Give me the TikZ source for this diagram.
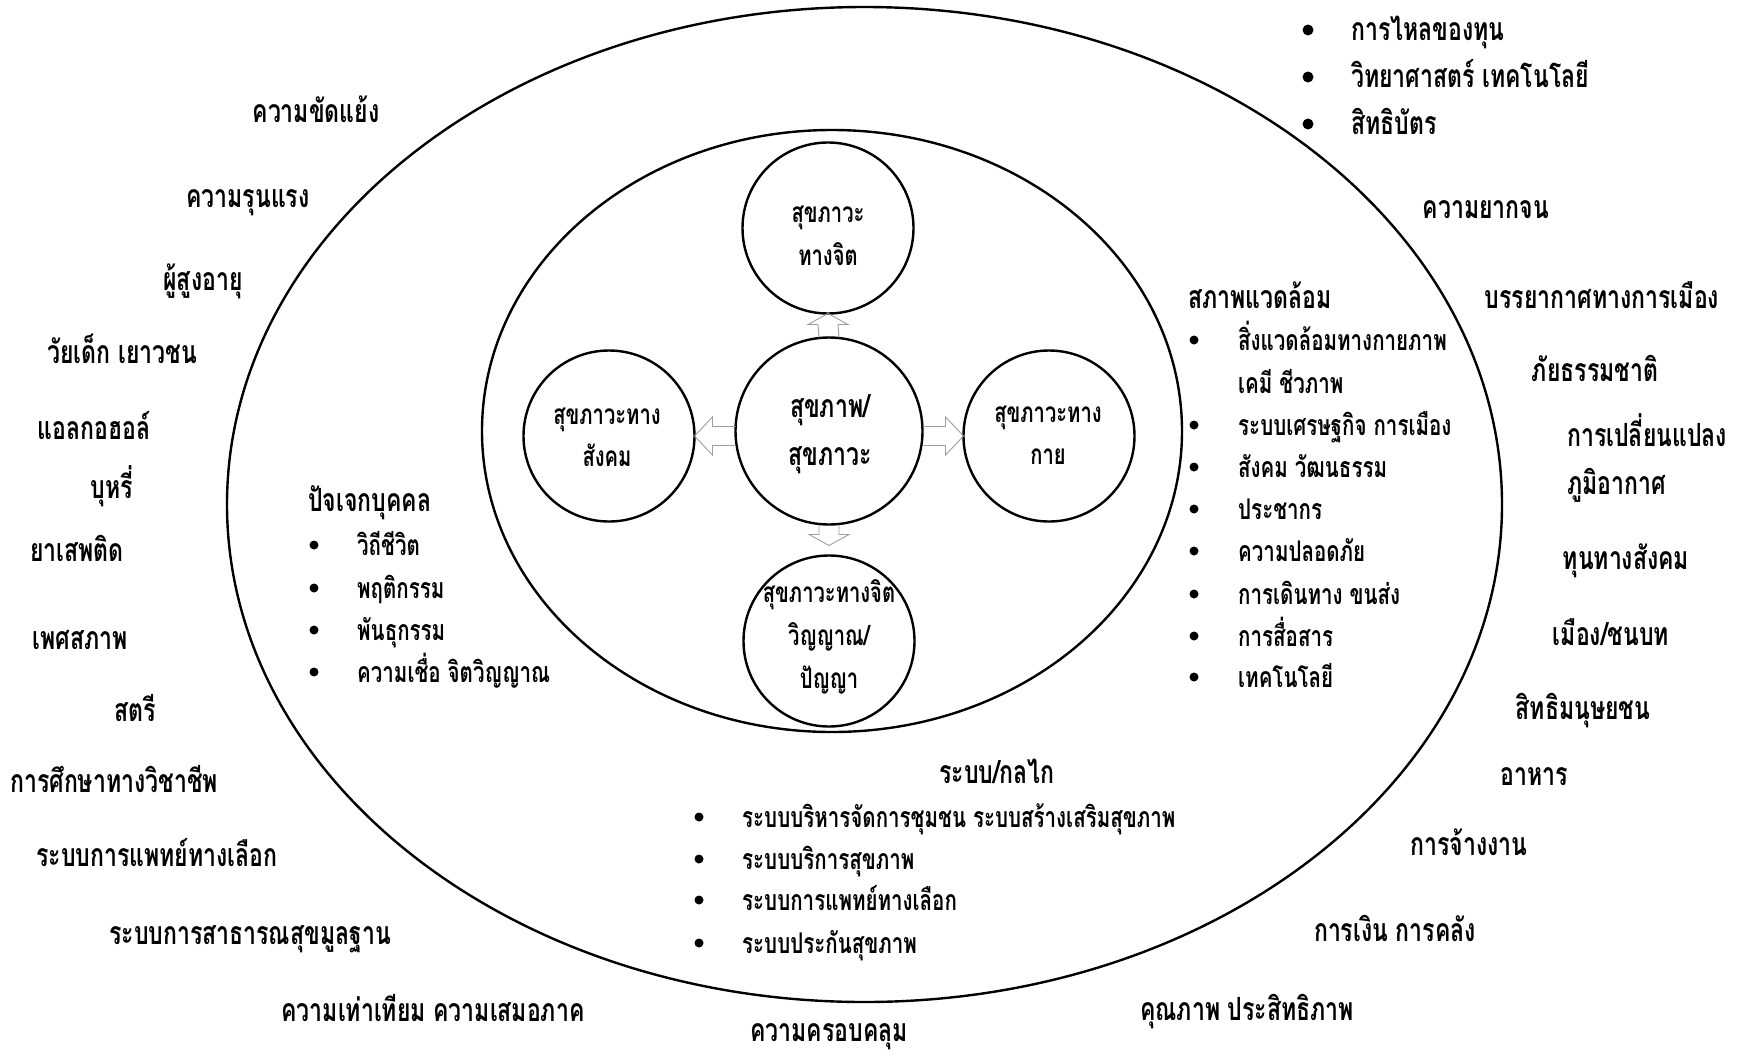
\documentclass[tikz,border=0pt]{standalone}
\usepackage{fontspec}
\setmainfont{Loma}[Script=Thai,FakeStretch=0.72]
\usetikzlibrary{calc,shapes.geometric}
\begin{document}
\begin{tikzpicture}[x=1pt,y=-1pt,
  ring/.style={draw, line width=2.4pt, ellipse, inner sep=0pt, outer sep=0pt},
  bub/.style={draw, circle, line width=2.4pt, inner sep=0pt, outer sep=0pt, minimum size=171pt},
  tx/.style={inner sep=0pt, text height=0pt, text depth=0pt, yshift=-10pt},
  big/.style={tx, font=\bfseries\fontsize{32}{40}\selectfont},
  sml/.style={tx, font=\bfseries\fontsize{28.5}{40}\selectfont},
  csml/.style={tx, font=\bfseries\fontsize{28}{40}\selectfont},
  hd/.style={big, anchor=west},
  item/.style={sml, anchor=west},
  itembig/.style={big, anchor=west},
  dot/.style={circle, fill=black, inner sep=0pt, minimum size=9pt},
  bigdot/.style={circle, fill=black, inner sep=0pt, minimum size=11pt},
  barrow/.style={draw=black!38, line width=0.9pt, line join=miter}
]
\fill[white] (0,0) rectangle (1754,1058);
\useasboundingbox (0,0) rectangle (1754,1058);

% rings
\node[ring, minimum width=1275pt, minimum height=995pt] (outer) at (864.5,504.5) {};
\node[ring, minimum width=700pt, minimum height=602pt] (middle) at (832,431) {};

% circles
\node[bub, minimum size=187pt] (ctr) at (829,431) {};
\node[bub] (top) at (828,228) {};
\node[bub] (lft) at (609,436) {};
\node[bub] (rgt) at (1049,436) {};
\node[bub] (bot) at (829,641) {};

% circle texts
\node[big] (ctr1) at (830,407) {สุขภาพ/};
\node[big] (ctr2) at (830,455) {สุขภาวะ};
\node[csml] (top1) at (828,212) {สุขภาวะ};
\node[csml] (top2) at (828,255) {ทางจิต};
\node[csml] (lft1) at (607,414) {สุขภาวะทาง};
\node[csml] (lft2) at (607,456) {สังคม};
\node[csml] (rgt1) at (1048,412) {สุขภาวะทาง};
\node[csml] (rgt2) at (1048,454) {กาย};
\node[csml] (bot1) at (829,592) {สุขภาวะทางจิต};
\node[csml] (bot2) at (829,635) {วิญญาณ/};
\node[csml] (bot3) at (829,678) {ปัญญา};

% block arrows
\coordinate (uT) at (top.south);
\draw[barrow] ($(ctr.north)+(-10,0)$) -- ($(uT)+(-10,11)$) -- ($(uT)+(-20,11)$) -- (uT)
  -- ($(uT)+(20,11)$) -- ($(uT)+(10,11)$) -- ($(ctr.north)+(10,0)$);
\coordinate (dT) at ($(ctr.south)+(0,21)$);
\draw[barrow] ($(ctr.south)+(-10,0)$) -- ($(dT)+(-10,-11)$) -- ($(dT)+(-20,-11)$) -- (dT)
  -- ($(dT)+(20,-11)$) -- ($(dT)+(10,-11)$) -- ($(ctr.south)+(10,0)$);
\coordinate (lT) at (lft.east);
\draw[barrow] ($(ctr.west |- lT)+(0,-9.5)$) -- ($(lT)+(18,-9.5)$) -- ($(lT)+(18,-19)$) -- (lT)
  -- ($(lT)+(18,19)$) -- ($(lT)+(18,9.5)$) -- ($(ctr.west |- lT)+(0,9.5)$);
\coordinate (rT) at (rgt.west);
\draw[barrow] ($(ctr.east |- rT)+(0,-9.5)$) -- ($(rT)+(-18,-9.5)$) -- ($(rT)+(-18,-19)$) -- (rT)
  -- ($(rT)+(-18,19)$) -- ($(rT)+(-18,9.5)$) -- ($(ctr.east |- rT)+(0,9.5)$);

% individual list
\node[hd] (indh) at (308,501) {ปัจเจกบุคคล};
\node[dot] (ib1) at (314,545) {}; \node[item] (i1) at (357,545) {วิถีชีวิต};
\node[dot] (ib2) at (314,588) {}; \node[item] (i2) at (357,588) {พฤติกรรม};
\node[dot] (ib3) at (314,630) {}; \node[item] (i3) at (357,630) {พันธุกรรม};
\node[dot] (ib4) at (314,672) {}; \node[item] (i4) at (357,672) {ความเชื่อ จิตวิญญาณ};

% environment list
\node[hd] (envh) at (1188,298) {สภาพแวดล้อม};
\node[dot] (eb1) at (1194,340) {}; \node[item] (e1) at (1238,340) {สิ่งแวดล้อมทางกายภาพ};
\node[item] (e1b) at (1238,383) {เคมี ชีวภาพ};
\node[dot] (eb2) at (1194,425) {}; \node[item] (e2) at (1238,425) {ระบบเศรษฐกิจ การเมือง};
\node[dot] (eb3) at (1194,467) {}; \node[item] (e3) at (1238,467) {สังคม วัฒนธรรม};
\node[dot] (eb4) at (1194,509) {}; \node[item] (e4) at (1238,509) {ประชากร};
\node[dot] (eb5) at (1194,551) {}; \node[item] (e5) at (1238,551) {ความปลอดภัย};
\node[dot] (eb6) at (1194,594) {}; \node[item] (e6) at (1238,594) {การเดินทาง ขนส่ง};
\node[dot] (eb7) at (1194,636) {}; \node[item] (e7) at (1238,636) {การสื่อสาร};
\node[dot] (eb8) at (1194,677) {}; \node[item] (e8) at (1238,677) {เทคโนโลยี};

% system list
\node[big] (sysh) at (997,773) {ระบบ/กลไก};
\node[dot] (sb1) at (699,817) {}; \node[item] (s1) at (742,817) {ระบบบริหารจัดการชุมชน ระบบสร้างเสริมสุขภาพ};
\node[dot] (sb2) at (699,859) {}; \node[item] (s2) at (742,859) {ระบบบริการสุขภาพ};
\node[dot] (sb3) at (699,900) {}; \node[item] (s3) at (742,900) {ระบบการแพทย์ทางเลือก};
\node[dot] (sb4) at (699,943) {}; \node[item] (s4) at (742,943) {ระบบประกันสุขภาพ};

% top-right list
\node[bigdot] (tb1) at (1308,30) {}; \node[itembig] (t1) at (1351,30) {การไหลของทุน};
\node[bigdot] (tb2) at (1308,77) {}; \node[itembig] (t2) at (1351,77) {วิทยาศาสตร์ เทคโนโลยี};
\node[bigdot] (tb3) at (1308,124) {}; \node[itembig] (t3) at (1351,124) {สิทธิบัตร};

% outer labels, left
\node[big] (o1) at (316,112) {ความขัดแย้ง};
\node[big] (o2) at (248,197) {ความรุนแรง};
\node[big] (o3) at (203,280) {ผู้สูงอายุ};
\node[big] (o4) at (122,353) {วัยเด็ก เยาวชน};
\node[big] (o5) at (94,429) {แอลกอฮอล์};
\node[big] (o6) at (112,488) {บุหรี่};
\node[big] (o7) at (77,551) {ยาเสพติด};
\node[big] (o8) at (80,639) {เพศสภาพ};
\node[big] (o9) at (135,711) {สตรี};
\node[big] (o10) at (114,782) {การศึกษาทางวิชาชีพ};
\node[big] (o11) at (157,856) {ระบบการแพทย์ทางเลือก};
\node[big] (o12) at (250,934) {ระบบการสาธารณสุขมูลฐาน};
\node[big] (o13) at (433,1011) {ความเท่าเทียม ความเสมอภาค};
\node[big] (o14) at (829,1031) {ความครอบคลุม};
% outer labels, right
\node[big] (o15) at (1247,1010) {คุณภาพ ประสิทธิภาพ};
\node[big] (o16) at (1395,931) {การเงิน การคลัง};
\node[big] (o17) at (1469,845) {การจ้างงาน};
\node[big] (o18) at (1534,775) {อาหาร};
\node[big] (o19) at (1583,709) {สิทธิมนุษยชน};
\node[big] (o20) at (1611,635) {เมือง/ชนบท};
\node[big] (o21) at (1626,559) {ทุนทางสังคม};
\node[hd] (o22) at (1567,436) {การเปลี่ยนแปลง};
\node[hd] (o23) at (1567,484) {ภูมิอากาศ};
\node[big] (o24) at (1595,371) {ภัยธรรมชาติ};
\node[big] (o25) at (1602,298) {บรรยากาศทางการเมือง};
\node[big] (o26) at (1486,208) {ความยากจน};
\end{tikzpicture}
\end{document}
